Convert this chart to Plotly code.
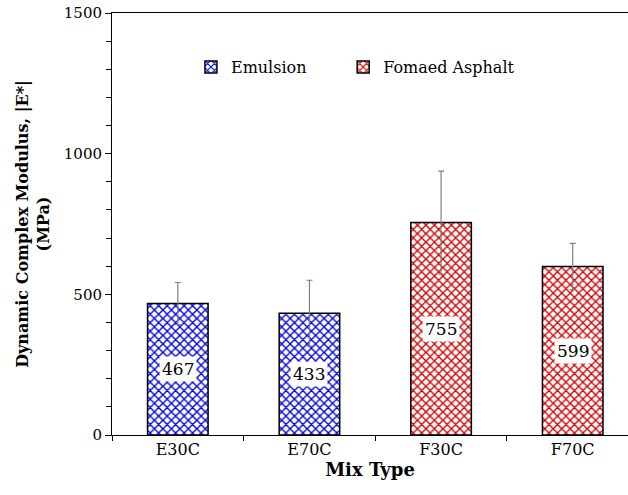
import plotly.graph_objects as go

categories = ["E30C", "E70C", "F30C", "F70C"]
emulsion_vals = [467, 433]
emulsion_err = [75, 117]
foamed_vals = [755, 599]
foamed_err = [183, 82]
y_ticks = [0, 500, 1000, 1500]

FONT = "Georgia, 'DejaVu Serif', serif"

fig = go.Figure()
fig.add_trace(go.Bar(
    x=categories[:2], y=emulsion_vals, name="Emulsion", width=0.46, legend="legend",
    showlegend=True,
    marker=dict(color="white", line=dict(color="black", width=1.5),
                pattern=dict(shape="x", fgcolor="#0000dd", bgcolor="white", size=6,
                             solidity=0.4, fgopacity=1)),
    error_y=dict(type="data", array=emulsion_err, color="#808080", thickness=1.2, width=3),
))
fig.add_trace(go.Bar(
    x=categories[2:], y=foamed_vals, name="Fomaed Asphalt", width=0.46, legend="legend2",
    showlegend=True,
    marker=dict(color="white", line=dict(color="black", width=1.5),
                pattern=dict(shape="x", fgcolor="#d40000", bgcolor="white", size=6,
                             solidity=0.4, fgopacity=1)),
    error_y=dict(type="data", array=foamed_err, color="#808080", thickness=1.2, width=3),
))

for c, v in zip(categories, emulsion_vals + foamed_vals):
    fig.add_annotation(x=c, y=v / 2, text=str(v), showarrow=False,
                       bgcolor="white", font=dict(family=FONT, size=17, color="black"),
                       borderpad=2)

leg_common = dict(orientation="h", y=0.872, yanchor="middle", xanchor="left",
                  font=dict(family=FONT, size=16), bgcolor="rgba(0,0,0,0)", itemwidth=30)

fig.update_layout(
    width=628, height=495,
    margin=dict(l=112, r=0, t=13, b=60),
    plot_bgcolor="white", paper_bgcolor="white",
    font=dict(family=FONT, color="black"),
    barmode="overlay",
    showlegend=True,
    legend=dict(x=0.153, **leg_common),
    legend2=dict(x=0.448, **leg_common),
    xaxis=dict(range=[-0.5, 3.42], showline=True, linecolor="black", linewidth=1,
               mirror=True, ticks="outside", tickson="boundaries", ticklen=5,
               tickcolor="black", tickfont=dict(size=16),
               title=dict(text="<b>Mix Type</b>", font=dict(size=18), standoff=4),
               showgrid=False),
    yaxis=dict(range=[0, 1500], tickvals=y_ticks, showline=True, linecolor="black",
               linewidth=1, ticks="outside", ticklen=6, tickcolor="black",
               tickfont=dict(size=15), showgrid=False, zeroline=False,
               minor=dict(dtick=100, ticks="outside", ticklen=5, tickcolor="black"),
               title=dict(text="<b>Dynamic Complex Modulus, |E*|<br>(MPa)</b>",
                          font=dict(size=16), standoff=10)),
)

fig.write_html("out.html")
